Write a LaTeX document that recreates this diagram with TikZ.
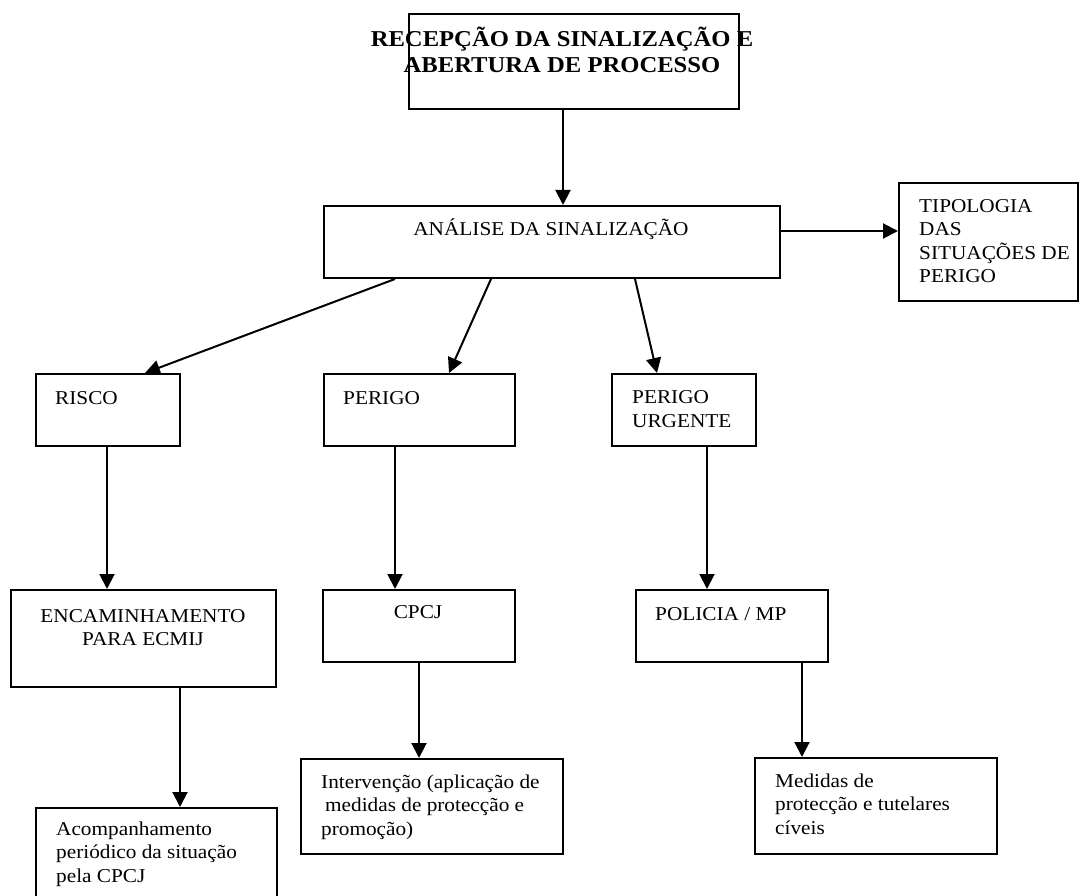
\documentclass[tikz,border=0pt]{standalone}
\usepackage{fontspec}
\setmainfont{Liberation Serif}[FakeStretch=1.085]
\usetikzlibrary{arrows.meta,calc}
\begin{document}
\begin{tikzpicture}[x=1pt,y=-1pt,
  box/.style={draw, line width=2pt, rectangle, inner sep=0pt, anchor=north west},
  txt/.style={inner sep=0pt, font=\fontsize{19.6}{23.5}\selectfont, align=left, anchor=base west},
  ctxt/.style={inner sep=0pt, font=\fontsize{19.6}{23.5}\selectfont, align=center, anchor=base},
  arr/.style={line width=2pt, -{Triangle[length=15pt,width=15pt]}}]
\useasboundingbox (0,0) rectangle (1080,896);
\clip (0,0) rectangle (1080,896);
\fill[white] (0,0) rectangle (1080,896);
% boxes
\node[box, minimum width=330pt, minimum height=95pt] (top) at (408,13) {};
\node[box, minimum width=456pt, minimum height=72pt] (analise) at (323,205) {};
\node[box, minimum width=179pt, minimum height=118pt] (tip) at (898,182) {};
\node[box, minimum width=144pt, minimum height=72pt] (risco) at (35,373) {};
\node[box, minimum width=191pt, minimum height=72pt] (perigo) at (323,373) {};
\node[box, minimum width=144pt, minimum height=72pt] (urg) at (611,373) {};
\node[box, minimum width=265pt, minimum height=97pt] (enc) at (10,589) {};
\node[box, minimum width=192pt, minimum height=72pt] (cpcj) at (322,589) {};
\node[box, minimum width=192pt, minimum height=72pt] (pol) at (635,589) {};
\node[box, minimum width=241pt, minimum height=120pt] (acomp) at (35,807) {};
\node[box, minimum width=262pt, minimum height=95pt] (interv) at (300,758) {};
\node[box, minimum width=242pt, minimum height=96pt] (med) at (754,757) {};
% texts (base = baseline of last line)
\node[ctxt, font=\bfseries\fontsize{22.7}{26}\selectfont] (ttop) at (562,73) {RECEPÇÃO DA SINALIZAÇÃO E\\ABERTURA DE PROCESSO};
\node[ctxt] (tanalise) at (551,236) {ANÁLISE DA SINALIZAÇÃO};
\node[txt] (ttip) at (919,283) {TIPOLOGIA\\DAS\\SITUAÇÕES DE\\PERIGO};
\node[txt] (trisco) at (55,404) {RISCO};
\node[txt] (tperigo) at (343,404) {PERIGO};
\node[txt] (turg) at (632,427) {PERIGO\\URGENTE};
\node[ctxt] (tenc) at (143,645.5) {ENCAMINHAMENTO\\PARA ECMIJ};
\node[ctxt] (tcpcj) at (418,618) {CPCJ};
\node[txt] (tpol) at (655,620) {POLICIA / MP};
\node[txt] (tacomp) at (56,882) {Acompanhamento\\periódico da situação\\pela CPCJ};
\node[txt] (tinterv) at (321,835) {Intervenção (aplicação de\\\hspace*{4pt}medidas de protecção e\\promoção)};
\node[txt] (tmed) at (775,834) {Medidas de\\protecção e tutelares\\cíveis};
% connectors
\draw[arr] ([xshift=155pt]top.south west) -- ([xshift=240pt]analise.north west);
\coordinate (ae) at ([yshift=11pt]analise.east);
\draw[arr] (ae) -- (ae -| tip.west);
\draw[arr] ([xshift=72pt]analise.south west) -- ([xshift=110pt]risco.north west);
\draw[arr] ([xshift=168pt]analise.south west) -- ([xshift=126pt]perigo.north west);
\draw[arr] ([xshift=312pt]analise.south west) -- ([xshift=46pt]urg.north west);
\coordinate (r1) at ([xshift=72pt]risco.south west);
\draw[arr] (r1) -- (r1 |- enc.north);
\coordinate (p1) at ([xshift=72pt]perigo.south west);
\draw[arr] (p1) -- (p1 |- cpcj.north);
\coordinate (u1) at ([xshift=96pt]urg.south west);
\draw[arr] (u1) -- (u1 |- pol.north);
\coordinate (e1) at ([xshift=170pt]enc.south west);
\draw[arr] (e1) -- (e1 |- acomp.north);
\draw[arr] (cpcj.south) -- (cpcj.south |- interv.north);
\coordinate (o1) at ([xshift=167pt]pol.south west);
\draw[arr] (o1) -- (o1 |- med.north);
\end{tikzpicture}
\end{document}
